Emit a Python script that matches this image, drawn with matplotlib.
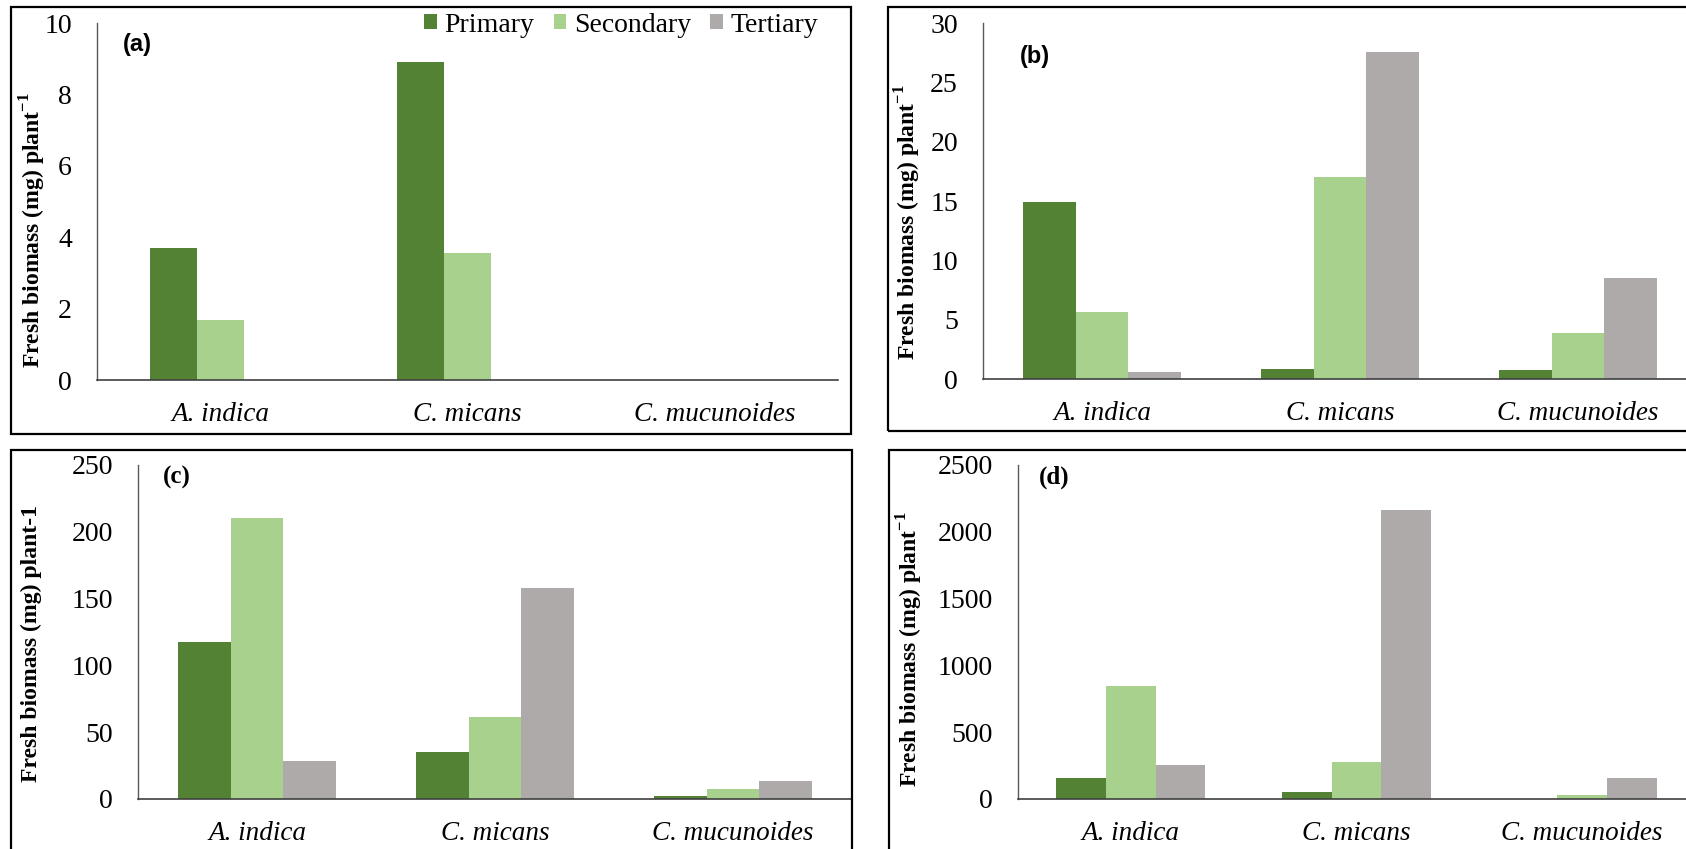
import matplotlib
matplotlib.use("Agg")
import matplotlib.pyplot as plt
from matplotlib.patches import Rectangle, Patch
import numpy as np

# ---- data -------------------------------------------------------------
categories = ["A. indica", "C. micans", "C. mucunoides"]
series_names = ["Primary", "Secondary", "Tertiary"]

a_primary = [3.69, 8.91, 0.0]
a_secondary = [1.68, 3.55, 0.0]
a_tertiary = [0.0, 0.0, 0.0]

b_primary = [14.88, 0.81, 0.73]
b_secondary = [5.62, 17.0, 3.85]
b_tertiary = [0.62, 27.58, 8.48]

c_primary = [117.3, 35.4, 2.3]
c_secondary = [210.5, 61.4, 7.3]
c_tertiary = [28.8, 157.8, 13.8]

d_primary = [157, 49, 0]
d_secondary = [848, 280, 27]
d_tertiary = [258, 2165, 154]

a_ticks = [0, 2, 4, 6, 8, 10]
b_ticks = [0, 5, 10, 15, 20, 25, 30]
c_ticks = [0, 50, 100, 150, 200, 250]
d_ticks = [0, 500, 1000, 1500, 2000, 2500]

colors = ["#548235", "#A9D18E", "#AEAAAA"]

# ---- figure -----------------------------------------------------------
W, H = 1686, 849
plt.rcParams["mathtext.fontset"] = "custom"
plt.rcParams["mathtext.rm"] = "Liberation Serif"
plt.rcParams["mathtext.bf"] = "Liberation Serif:bold"
fig = plt.figure(figsize=(W / 100, H / 100), dpi=100)

SERIF = "Liberation Serif"
TICK_FS = 20
CAT_FS = 19.5
LABEL_FS = 17


def fig_rect(left, top, right, bottom):
    return [left / W, 1 - bottom / H, (right - left) / W, (bottom - top) / H]


def panel_box(left, top, right, bottom):
    fig.patches.append(Rectangle((left / W, 1 - bottom / H), (right - left) / W,
                                 (bottom - top) / H, transform=fig.transFigure,
                                 fill=False, edgecolor="black", linewidth=1.6))


def draw_panel(rect, values, ticks, width):
    ax = fig.add_axes(rect)
    x = np.arange(len(categories))
    offsets = [-width, 0, width]
    for vals, off, col, name in zip(values, offsets, colors, series_names):
        ax.bar(x + off, vals, width=width, color=col, edgecolor="none", label=name)
    ax.set_xlim(-0.5, len(categories) - 0.5)
    ax.set_ylim(ticks[0], ticks[-1])
    ax.set_yticks(ticks)
    ax.set_yticklabels([str(t) for t in ticks], fontfamily=SERIF, fontsize=TICK_FS)
    ax.set_xticks(x)
    ax.set_xticklabels(categories, fontfamily=SERIF, fontsize=CAT_FS, fontstyle="italic")
    ax.tick_params(axis="y", length=0, pad=18)
    ax.tick_params(axis="x", length=0, pad=16)
    for s in ("top", "right"):
        ax.spines[s].set_visible(False)
    ax.spines["left"].set_color("#595959")
    ax.spines["left"].set_linewidth(1.0)
    ax.spines["bottom"].set_color("#404040")
    ax.spines["bottom"].set_linewidth(1.2)
    ax.set_facecolor("none")
    return ax


# panel borders
panel_box(11, 7, 851, 434)
panel_box(888, 7, 1760, 431)
panel_box(11, 450, 852, 900)
panel_box(889, 450, 1760, 900)

ax_a = draw_panel(fig_rect(97, 23, 838, 380), [a_primary, a_secondary, a_tertiary], a_ticks, 0.19)
ax_b = draw_panel(fig_rect(983, 23, 1697, 379), [b_primary, b_secondary, b_tertiary], b_ticks, 0.22)
ax_c = draw_panel(fig_rect(138, 465, 852, 799), [c_primary, c_secondary, c_tertiary], c_ticks, 0.22)
ax_d = draw_panel(fig_rect(1018, 465, 1695, 799), [d_primary, d_secondary, d_tertiary], d_ticks, 0.22)

# y-axis titles
ylab_sup = "Fresh biomass (mg) plant$^{\\mathbf{-1}}$"
ylab_plain = "Fresh biomass (mg) plant-1"
for (xc, yc), lab in [((33, 230), ylab_sup), ((908, 222), ylab_sup),
                      ((31, 643), ylab_plain), ((910, 649), ylab_sup)]:
    fig.text(xc / W, 1 - yc / H, lab, rotation=90, ha="center", va="center",
             fontfamily=SERIF, fontweight="bold", fontsize=LABEL_FS)

# panel letters
fig.text(137 / W, 1 - 44 / H, "(a)", ha="center", va="center",
         fontfamily="Liberation Sans", fontweight="bold", fontsize=17)
fig.text(1035 / W, 1 - 57 / H, "(b)", ha="center", va="center",
         fontfamily="Liberation Sans", fontweight="bold", fontsize=17)
fig.text(177 / W, 1 - 477 / H, "(c)", ha="center", va="center",
         fontfamily=SERIF, fontweight="bold", fontsize=18)
fig.text(1054 / W, 1 - 477 / H, "(d)", ha="center", va="center",
         fontfamily=SERIF, fontweight="bold", fontsize=18)

# legend of panel (a)
handles = [Patch(facecolor=c, edgecolor="none", label=n) for c, n in zip(colors, series_names)]
ax_a.legend(handles=handles, loc="center left", bbox_to_anchor=(424 / W, 1 - 25 / H),
            bbox_transform=fig.transFigure, ncol=3, frameon=False, borderpad=0,
            borderaxespad=0, handlelength=0.45, handleheight=0.45, handletextpad=0.28,
            columnspacing=0.7, prop={"family": SERIF, "size": 20})

fig.savefig("out.png", dpi=100, facecolor="white")
